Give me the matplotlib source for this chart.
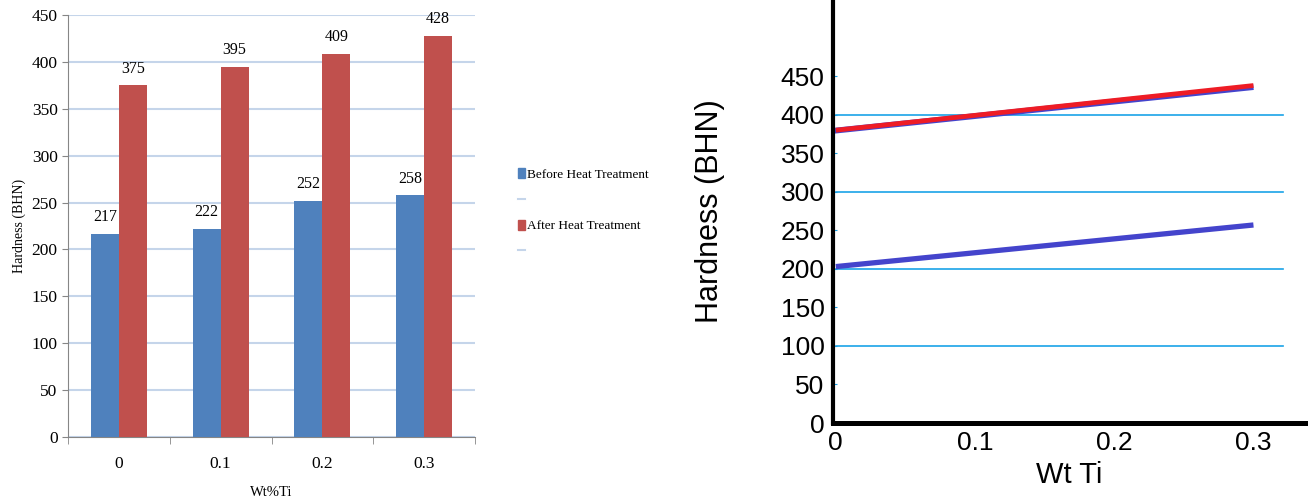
import matplotlib

matplotlib.use("Agg")
import matplotlib.pyplot as plt
import numpy as np
from matplotlib.lines import Line2D
from matplotlib.patches import Patch

# Bar chart: hardness per Ti content
wt_ti = ["0", "0.1", "0.2", "0.3"]
before_ht = [217, 222, 252, 258]
after_ht = [375, 395, 409, 428]

# Trend lines (Wt Ti vs hardness)
trend_x = [0.0, 0.3]
trend_after = [380, 438]
trend_before = [203, 257]

BLUE = "#4f81bd"
RED = "#c0504d"
GRID_L = "#c5d5ea"
AXIS_L = "#868686"

fig = plt.figure(figsize=(13.11, 5.04), dpi=100)

# ---- left: grouped bars ----
ax = fig.add_axes([0.0519, 0.133, 0.3104, 0.837])
x = np.arange(len(wt_ti))
w = 0.275
b1 = ax.bar(x - w / 2, before_ht, w, color=BLUE, zorder=3)
b2 = ax.bar(x + w / 2, after_ht, w, color=RED, zorder=3)
for bars, vals in ((b1, before_ht), (b2, after_ht)):
    for b, v in zip(bars, vals):
        ax.text(b.get_x() + b.get_width() / 2, v + 9, f"{v}", ha="center",
                va="bottom", fontsize=11.5, family="Liberation Serif")
ax.set_xlim(-0.5, 3.5)
ax.set_ylim(0, 450)
ax.set_yticks(np.arange(0, 451, 50))
ax.yaxis.grid(True, color=GRID_L, lw=1.5, zorder=0)
ax.set_xticks(x)
ax.set_xticklabels(wt_ti)
ax.set_xticks(np.arange(-0.5, 4, 1), minor=True)
ax.tick_params(axis="x", which="major", length=0, pad=14)
ax.tick_params(axis="x", which="minor", length=5, color=AXIS_L)
ax.tick_params(axis="y", length=4, color=AXIS_L)
for lbl in ax.get_xticklabels() + ax.get_yticklabels():
    lbl.set_family("Liberation Serif")
    lbl.set_fontsize(12.5)
for s in ("top", "right"):
    ax.spines[s].set_visible(False)
for s in ("left", "bottom"):
    ax.spines[s].set_color(AXIS_L)
ax.set_ylabel("Hardness (BHN)", family="Liberation Serif", fontsize=10, labelpad=4)
ax.set_xlabel("Wt%Ti", family="Liberation Serif", fontsize=10.5, labelpad=10)

handles = [
    Patch(color=BLUE),
    Line2D([], [], color=GRID_L, lw=1.5),
    Patch(color=RED),
    Line2D([], [], color=GRID_L, lw=1.5),
]
fig.legend(handles, ["Before Heat Treatment", "", "After Heat Treatment", ""],
           loc="upper left", bbox_to_anchor=(0.386, 0.69), frameon=False,
           handlelength=0.5, handleheight=0.8, handletextpad=0.2,
           labelspacing=1.0, prop={"family": "Liberation Serif", "size": 9.5})

# ---- right: linear trends ----
ax2 = fig.add_axes([0.6354, 0.1607, 0.36, 0.8393])
for yv in (100, 200, 300, 400):
    ax2.plot([0, 0.321], [yv, yv], color="#1aa3e8", lw=1.2, zorder=1)
ax2.plot([-0.003, 0.3], [trend_after[0] - 1, trend_after[1] - 2], color="#4444cc",
         lw=4.2, zorder=2, solid_capstyle="butt")
ax2.plot(trend_x, trend_after, color="#ee1c25", lw=3.4, zorder=3,
         solid_capstyle="butt")
ax2.plot(trend_x, trend_before, color="#4444cc", lw=3.8, zorder=3,
         solid_capstyle="butt")
ax2.set_xlim(-0.002, 0.337)
ax2.set_ylim(0, 549)
ax2.set_yticks(np.arange(0, 451, 50))
ax2.set_xticks([0, 0.1, 0.2, 0.3])
ax2.set_xticklabels(["0", "0.1", "0.2", "0.3"])
ax2.tick_params(axis="y", length=3, color="#1aa3e8", direction="in", pad=6)
ax2.tick_params(axis="x", length=0, pad=6)
for lbl in ax2.get_xticklabels() + ax2.get_yticklabels():
    lbl.set_family("Liberation Sans")
    lbl.set_fontsize(19)
for s in ("top", "right"):
    ax2.spines[s].set_visible(False)
ax2.spines["left"].set_linewidth(3)
ax2.spines["bottom"].set_linewidth(3.6)
ax2.set_ylabel("Hardness (BHN)", family="Liberation Sans", fontsize=22, labelpad=40)
ax2.set_xlabel("Wt Ti", family="Liberation Sans", fontsize=21, labelpad=4)

fig.savefig("out.png", dpi=100)
